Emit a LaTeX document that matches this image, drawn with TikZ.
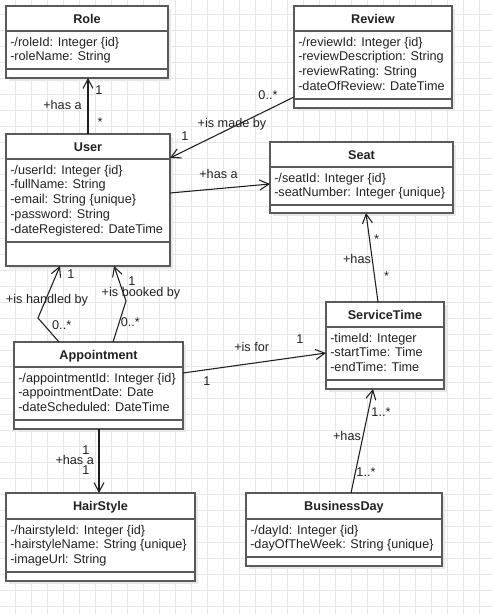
\documentclass[tikz,border=0pt]{standalone}
\usepackage{fontspec}
\setmainfont{Liberation Sans}
\usetikzlibrary{arrows.meta,calc}
\definecolor{boxc}{HTML}{5A5A5A}
\definecolor{txtc}{HTML}{222222}
\definecolor{linec}{HTML}{1E1E1E}
\definecolor{gridc}{HTML}{E6E6E6}
\tikzset{
 classbox/.style={draw=boxc, line width=1.1pt, fill=white, inner sep=0pt, outer sep=0pt, rectangle},
 sepline/.style={draw=boxc, line width=1.1pt},
 shadowbox/.style={fill=black!9},
 titletext/.style={font=\fontsize{9.5}{11}\selectfont\bfseries, text=txtc, inner sep=0pt, anchor=base},
 attrtext/.style={font=\fontsize{9.5}{11}\selectfont, text=txtc, inner sep=0pt, anchor=base west},
 lbl/.style={font=\fontsize{9.5}{11}\selectfont, text=txtc, inner sep=0pt, anchor=base},
 assoc/.style={draw=linec, line width=0.8pt, -{Straight Barb[length=7pt,width=7.5pt]}},
 gridline/.style={draw=gridc, line width=0.7pt},
}
\newcommand\umlclass[9]{%
  \fill[shadowbox] (#2+3,#3+3) rectangle (#4+3,#5+3);
  \node[classbox, minimum width={(#4-#2)*0.75pt}, minimum height={(#5-#3)*0.75pt}] (#1) at ({(#2+#4)/2},{(#3+#5)/2}) {};
  \draw[sepline] (#2,#6) -- (#4,#6) (#2,#7) -- (#4,#7);
  \node[titletext] (#1-title) at ({(#2+#4)/2},{#3+17}) {#8};
  \foreach \t [count=\i] in {#9} \node[attrtext] (#1-a\i) at ({#2+4},{#6+15+(\i-1)*14.8}) {\t};
}
\begin{document}
\begin{tikzpicture}[x=0.75pt,y=-0.75pt]
\useasboundingbox (0,0) rectangle (493,614);
\fill[white] (0,0) rectangle (493,614);
\foreach \gx in {15,31,...,495} \draw[gridline] (\gx,0) -- (\gx,614);
\foreach \gy in {14,30,...,614} \draw[gridline] (0,\gy) -- (493,\gy);

\umlclass{role}{6}{6}{168}{78}{31}{69}{Role}{{-/roleId: Integer \{id\}},{-roleName: String}}
\umlclass{user}{6}{134}{170}{266}{159}{242}{User}{{-/userId: Integer \{id\}},{-fullName: String},{-email: String \{unique\}},{-password: String},{-dateRegistered: DateTime}}
\umlclass{review}{294}{6}{452}{108}{31}{99}{Review}{{-/reviewId: Integer \{id\}},{-reviewDescription: String},{-reviewRating: String},{-dateOfReview: DateTime}}
\umlclass{seat}{270}{142}{453}{213}{167}{205}{Seat}{{-/seatId: Integer \{id\}},{-seatNumber: Integer \{unique\}}}
\umlclass{appt}{14}{342}{183}{429}{367}{420}{Appointment}{{-/appointmentId: Integer \{id\}},{-appointmentDate: Date},{-dateScheduled: DateTime}}
\umlclass{st}{326}{302}{444}{389}{327}{380}{ServiceTime}{{-timeId: Integer},{-startTime: Time},{-endTime: Time}}
\umlclass{hair}{6}{493}{195}{581}{519}{572}{HairStyle}{{-/hairstyleId: Integer \{id\}},{-hairstyleName: String \{unique\}},{-imageUrl: String}}
\umlclass{bd}{246}{493}{442}{566}{519}{557}{BusinessDay}{{-/dayId: Integer \{id\}},{-dayOfTheWeek: String \{unique\}}}

% connectors
\coordinate (b1) at (38,318);
\coordinate (b2) at (126,301);
\draw[assoc] ($(user.north west)+(82,0)$) -- ($(role.south west)+(82,0)$);
\draw[assoc] ($(review.north west)+(0,91)$) -- ($(user.north east)+(0,24)$);
\draw[assoc] ($(user.north east)+(0,59)$) -- ($(seat.north west)+(0,42)$);
\draw[assoc] ($(appt.north west)+(45,0)$) -- (b1) -- ($(user.south west)+(54,0)$);
\draw[assoc] ($(appt.north west)+(99,0)$) -- (b2) -- ($(user.south west)+(108,0)$);
\draw[assoc] ($(appt.north east)+(0,31)$) -- ($(st.north west)+(0,51)$);
\draw[assoc] ($(st.north west)+(52,0)$) -- ($(seat.south west)+(96,0)$);
\draw[assoc] ($(bd.north west)+(105,0)$) -- ($(st.south west)+(47,0)$);
\draw[assoc] ($(appt.south west)+(85,0)$) -- ($(hair.north west)+(93,0)$);

% labels
\node[lbl] (l1) at (62.5,109) {+has a};
\node[lbl] (l2) at (99,94) {1};
\node[lbl] (l3) at (100,126) {*};
\node[lbl] (l4) at (232,127) {+is made by};
\node[lbl] (l5) at (268,99) {0..*};
\node[lbl] (l6) at (185,140.5) {1};
\node[lbl] (l7) at (218.5,178) {+has a};
\node[lbl] (l8) at (71,278) {1};
\node[lbl] (l9) at (47,303) {+is handled by};
\node[lbl] (l10) at (61.7,329) {0..*};
\node[lbl] (l11) at (132,285) {1};
\node[lbl] (l12) at (141,296) {+is booked by};
\node[lbl] (l13) at (130.3,326.3) {0..*};
\node[lbl] (l14) at (251.7,351.7) {+is for};
\node[lbl] (l15) at (300,343) {1};
\node[lbl] (l16) at (207,385) {1};
\node[lbl] (l17) at (376.7,243) {*};
\node[lbl] (l18) at (357,263.3) {+has};
\node[lbl] (l19) at (386.7,280) {*};
\node[lbl] (l20) at (381,416.7) {1..*};
\node[lbl] (l21) at (347,440.7) {+has};
\node[lbl] (l22) at (366,476.7) {1..*};
\node[lbl] (l23) at (86,454) {1};
\node[lbl] (l24) at (74.7,464) {+has a};
\node[lbl] (l25) at (86,474.7) {1};
\end{tikzpicture}
\end{document}
